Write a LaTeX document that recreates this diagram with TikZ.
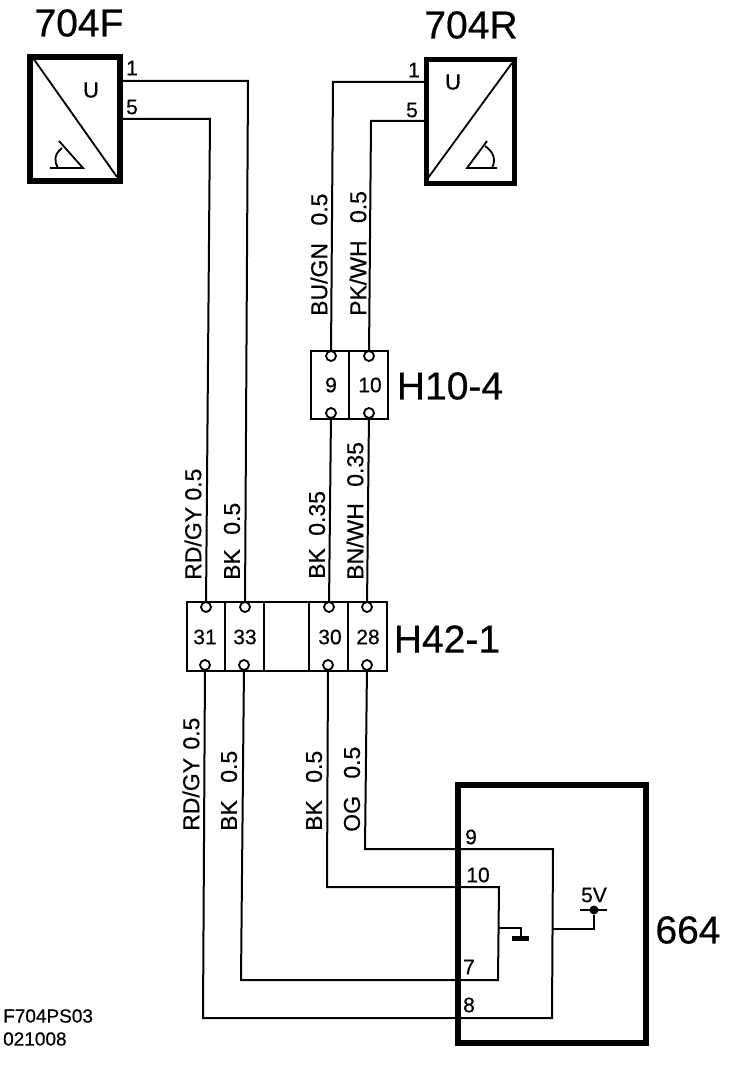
\documentclass[tikz,border=0pt]{standalone}
\usepackage{fontspec}
\setmainfont[RawFeature={embolden=0.5}]{Liberation Sans}
\newcommand{\fsz}[1]{\fontsize{#1}{#1}\selectfont}
\newcommand{\gap}[1]{\hspace{#1pt}}
\tikzset{
  sensor/.style={draw,line width=5.5pt,inner sep=0pt},
  ecu/.style={draw,line width=6pt,inner sep=0pt},
  block/.style={draw,line width=2.6pt,inner sep=0pt},
  wire/.style={line width=2pt,line join=miter},
  thin wire/.style={line width=1.8pt},
  pin/.style={circle,draw,fill=white,line width=1.8pt,minimum size=10pt,inner sep=0pt},
  title/.style={font=\fsz{39},inner sep=0pt},
  num/.style={font=\fsz{21},inner sep=0pt},
  uu/.style={font=\fsz{22},inner sep=0pt},
  wl/.style={font=\fsz{23},rotate=90,anchor=west,inner sep=0pt},
  ref/.style={font=\fsz{19},inner sep=0pt,anchor=west}
}
\begin{document}
\begin{tikzpicture}[x=1pt,y=-1pt]
\useasboundingbox (0,0) rectangle (752,1086);
% sensors
\node[sensor,minimum width=90pt,minimum height=124pt] (S1) at (75,119) {};
\node[sensor,minimum width=88pt,minimum height=124pt] (S2) at (470.5,121.5) {};
\node[title] (T1) at (79,23) {704F};
\node[title] (T2) at (471,25) {704R};
\draw[thin wire] (33,58) -- (117,177);
\draw[thin wire] (428,178) -- (512,63);
\node[uu] (U1) at (91,90) {U};
\node[uu] (U2) at (453,82) {U};
% gauge symbols
\draw[thin wire] (50,168) -- (83,168) -- (59,141);
\draw[thin wire] (62,148) .. controls (54,154) and (54,162) .. (58,168);
\draw[thin wire] (497,168) -- (467,168) -- (487,141);
\draw[thin wire] (485,146) .. controls (494,152) and (496,160) .. (492,168);
% connector blocks
\node[block,minimum width=77pt,minimum height=68pt] (H10) at (349.5,385) {};
\node[block,minimum width=200pt,minimum height=69pt] (H42) at (287,636.5) {};
\draw[block] (349,351) -- (349,419);
\draw[block] (225,602) -- (225,671);
\draw[block] (264,602) -- (264,671);
\draw[block] (309,602) -- (309,671);
\draw[block] (348,602) -- (348,671);
\node[pin] (a9)  at (331,356) {};
\node[pin] (a10) at (369,356) {};
\node[pin] (b9)  at (331,413) {};
\node[pin] (b10) at (369,413) {};
\node[pin] (c31) at (206,607) {};
\node[pin] (c33) at (245,607) {};
\node[pin] (c30) at (329,607) {};
\node[pin] (c28) at (367,607) {};
\node[pin] (d31) at (205,665) {};
\node[pin] (d33) at (244,665) {};
\node[pin] (d30) at (328,665) {};
\node[pin] (d28) at (367,665) {};
\node[num] (n9) at (331,385) {9};
\node[num] (n10) at (370,385) {10};
\node[num] (n31) at (205,637) {31};
\node[num] (n33) at (245,637) {33};
\node[num] (n30) at (330,637) {30};
\node[num] (n28) at (368,637) {28};
\node[title] (TH10) at (450,386) {H10-4};
\node[title] (TH42) at (447,639) {H42-1};
% control module
\node[ecu,minimum width=188pt,minimum height=258pt] (M) at (552,914) {};
\node[title] (T664) at (688,930) {664};
% terminal points
\coordinate (F1) at (122,81);
\coordinate (F5) at (122,119);
\coordinate (R1) at (425,82);
\coordinate (R5) at (425,121);
\coordinate (k1) at (248,81);
\coordinate (k5) at (210,119);
\coordinate (k6) at (333,82);
\coordinate (k7) at (371,121);
\coordinate (e9) at (365,849);
\coordinate (e10) at (327,887);
\coordinate (e7) at (241,980);
\coordinate (e8) at (203,1018);
\coordinate (q1) at (553,849);
\coordinate (q2) at (552,1018);
\coordinate (q3) at (499,887);
\coordinate (q4) at (498,980);
\coordinate (v1) at (552,929);
\coordinate (v2) at (594,929);
\coordinate (g1) at (498,928);
\coordinate (g2) at (521,928);
\coordinate (g3) at (521,938);
\node[circle,fill=black,minimum size=9pt,inner sep=0pt] (V) at (594,910) {};
% wires
\draw[wire] (F1) -- (k1) -- (c33);
\draw[wire] (F5) -- (k5) -- (c31);
\draw[wire] (R1) -- (k6) -- (a9);
\draw[wire] (R5) -- (k7) -- (a10);
\draw[wire] (b9) -- (c30);
\draw[wire] (b10) -- (c28);
\draw[wire] (d28) -- (e9) -- (q1) -- (q2) -- (e8) -- (d31);
\draw[wire] (d30) -- (e10) -- (q3) -- (q4) -- (e7) -- (d33);
\draw[wire] (v1) -- (v2) -- (V);
\draw[wire] (g1) -- (g2) -- (g3);
\draw[line width=5pt] (512,938) -- (529,938);
\draw[thin wire] (580,910) -- (607,910);
% pin numbers
\node[num] (l1) at (132,68) {1};
\node[num] (l5) at (132,107) {5};
\node[num] (l6) at (414,70) {1};
\node[num] (l7) at (412,110) {5};
\node[num] (l8) at (471,837) {9};
\node[num] (l9) at (478,875) {10};
\node[num] (l10) at (469,967) {7};
\node[num] (l11) at (469,1005) {8};
\node[num] (l12) at (594,895) {5V};
% wire labels
\node[wl] at (193,580) {RD/GY 0.5};
\node[wl] at (232,580) {BK\gap{8} 0.5};
\node[wl] at (317,579) {BK\gap{6} 0.35};
\node[wl] at (355,580) {BN/WH\gap{10} 0.35};
\node[wl] at (319,316) {BU/GN\gap{11} 0.5};
\node[wl] at (358,316) {PK/WH\gap{11} 0.5};
\node[wl] at (191,831) {RD/GY\gap{2} 0.5};
\node[wl] at (229,831) {BK\gap{11} 0.5};
\node[wl] at (314,831) {BK\gap{11} 0.5};
\node[wl] at (352,832) {OG\gap{11} 0.5};
% reference
\node[ref] at (3,1016) {F704PS03};
\node[ref] at (3,1039) {021008};
\end{tikzpicture}
\end{document}
